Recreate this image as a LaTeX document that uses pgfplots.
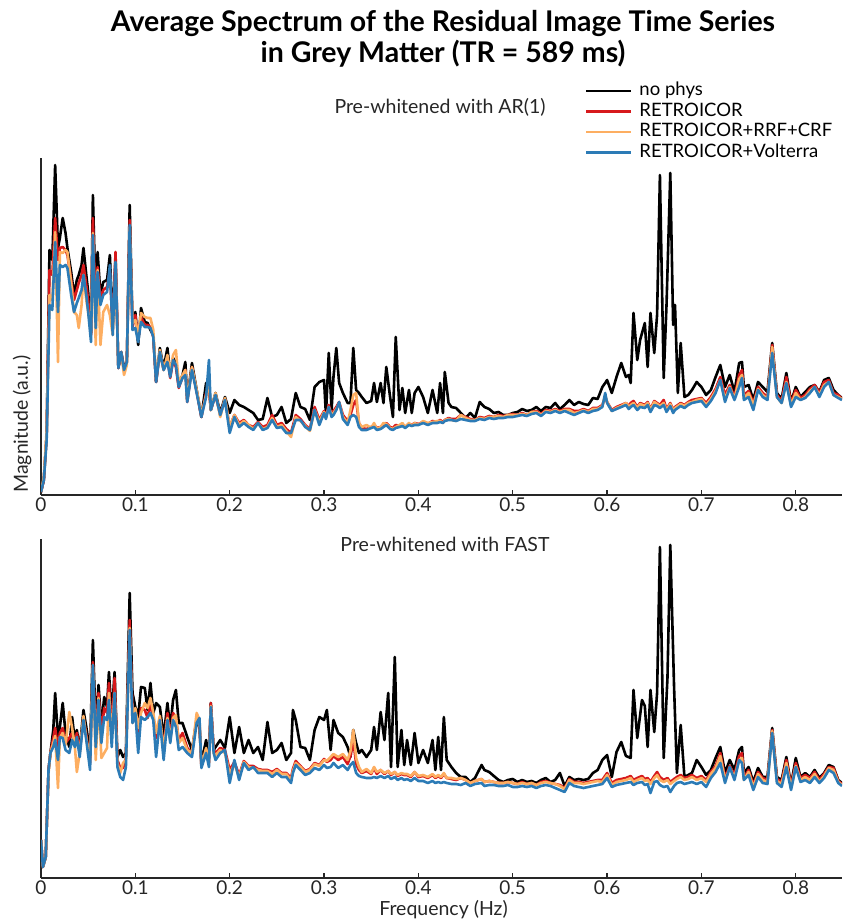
\documentclass[border=0pt]{standalone}
\usepackage{fontspec}
\setmainfont{Lato}
\usepackage{pgfplots}
\usepackage{pgfplotstable}
\pgfplotsset{compat=1.18}

\definecolor{cRed}{HTML}{D7191C}
\definecolor{cOrange}{HTML}{FDAE61}
\definecolor{cBlue}{HTML}{2C7BB6}
\definecolor{axgray}{HTML}{262626}

% f: frequency (Hz); k: no phys; r: RETROICOR; o: RETROICOR+RRF+CRF; b: RETROICOR+Volterra
\pgfplotstableread{
f k r o b
0.000 3 3 3 3
0.003 15 15 18 15
0.006 60 60 65 55
0.009 245 225 200 190
0.012 235 220 195 185
0.015 330 277 263 253
0.018 247 235 133 183
0.020 257 247 243 230
0.023 277 248 242 228
0.026 262 245 245 230
0.028 247 240 243 227
0.032 223 215 212 200
0.035 200 195 183 183
0.038 215 205 180 192
0.040 220 212 167 197
0.043 230 220 190 205
0.045 247 230 220 220
0.048 220 210 195 200
0.050 203 195 183 183
0.053 162 160 165 153
0.055 300 277 262 260
0.058 193 180 150 167
0.060 243 228 225 223
0.063 200 195 150 190
0.066 213 205 183 200
0.070 215 208 190 203
0.073 240 225 180 230
0.076 170 165 160 160
0.079 238 243 225 233
0.082 127 127 130 127
0.085 143 143 142 143
0.088 127 125 120 125
0.091 133 133 130 133
0.094 290 275 268 270
0.097 170 168 172 165
0.100 183 180 175 167
0.103 150 155 160 153
0.106 187 178 182 173
0.110 173 170 178 168
0.113 172 170 177 168
0.116 165 168 177 167
0.119 160 158 165 158
0.122 113 113 115 113
0.126 147 143 145 143
0.130 127 125 125 125
0.134 147 137 140 133
0.137 120 117 122 118
0.140 137 135 140 135
0.143 132 128 145 130
0.146 110 107 112 108
0.150 120 118 120 117
0.153 133 125 125 120
0.155 95 93 95 93
0.160 132 128 128 125
0.165 105 103 105 102
0.170 78 78 80 78
0.175 112 102 100 98
0.178 110 108 112 135
0.180 85 85 85 85
0.185 102 100 102 100
0.190 82 80 78 80
0.195 98 96 97 95
0.200 82 68 68 62
0.205 95 80 80 78
0.210 90 72 70 68
0.215 88 75 74 72
0.220 85 70 70 68
0.225 82 68 66 65
0.230 75 73 72 72
0.235 76 68 66 65
0.240 97 70 68 67
0.245 78 80 77 75
0.250 80 70 68 67
0.255 88 72 70 68
0.260 72 66 64 62
0.265 76 62 58 62
0.270 102 80 78 75
0.275 88 76 74 75
0.280 86 70 69 68
0.285 75 66 64 65
0.290 108 88 85 85
0.295 113 75 73 70
0.300 115 84 83 82
0.302 80 78 77 76
0.305 142 90 88 88
0.308 85 80 80 78
0.310 118 84 82 80
0.313 147 88 86 85
0.316 112 93 92 93
0.320 102 80 78 76
0.325 92 74 72 70
0.328 92 80 85 78
0.331 147 90 100 80
0.334 105 95 102 78
0.337 102 72 72 68
0.340 98 67 68 65
0.345 92 66 70 65
0.350 94 68 67 67
0.353 112 70 72 68
0.356 93 67 66 65
0.360 112 68 68 66
0.363 92 70 72 68
0.366 128 72 71 70
0.370 98 68 67 66
0.373 78 67 66 65
0.376 158 70 68 67
0.380 85 69 70 68
0.383 107 70 72 69
0.386 82 68 68 67
0.390 105 71 72 70
0.393 82 70 69 69
0.396 102 72 72 70
0.400 108 71 70 70
0.405 98 73 74 72
0.410 82 71 72 70
0.415 105 74 73 72
0.420 82 73 74 72
0.423 112 75 74 73
0.426 82 73 72 72
0.428 123 75 75 74
0.432 92 77 76 75
0.435 88 76 75 75
0.440 87 76 74 74
0.445 82 80 80 76
0.450 77 78 77 75
0.455 82 76 75 74
0.460 77 75 75 74
0.465 93 78 77 76
0.470 88 77 76 75
0.475 86 79 78 77
0.480 82 78 78 76
0.485 83 80 79 77
0.490 80 79 78 77
0.495 80 80 80 78
0.500 82 81 80 78
0.505 83 80 80 79
0.510 86 82 81 80
0.515 84 80 80 79
0.520 85 83 83 81
0.525 88 84 83 82
0.530 84 81 80 79
0.535 88 85 84 83
0.540 87 84 83 82
0.545 92 86 85 84
0.550 86 84 83 82
0.555 90 86 85 84
0.560 95 86 85 82
0.565 90 84 82 80
0.570 93 84 83 82
0.575 91 86 85 84
0.580 90 84 83 82
0.585 97 87 86 84
0.590 96 87 86 85
0.595 108 90 89 88
0.598 112 98 100 102
0.600 115 93 93 92
0.605 102 85 84 84
0.610 118 88 87 86
0.615 132 90 89 88
0.620 118 92 92 90
0.623 120 89 88 86
0.625 112 92 90 88
0.628 182 94 92 90
0.632 135 88 87 85
0.635 155 92 91 88
0.640 172 90 89 87
0.643 128 93 92 90
0.646 182 86 85 83
0.650 142 94 93 90
0.653 180 92 91 89
0.656 320 90 89 87
0.660 117 95 92 90
0.663 190 86 85 83
0.667 322 92 91 89
0.670 170 85 84 82
0.672 190 88 87 85
0.675 102 90 89 87
0.678 152 92 91 89
0.682 98 90 89 87
0.686 100 93 92 90
0.690 105 95 93 92
0.695 113 96 95 93
0.700 108 97 96 94
0.705 100 92 90 88
0.710 105 98 96 94
0.715 118 106 104 102
0.720 130 118 115 115
0.725 108 100 96 93
0.730 120 110 108 107
0.735 103 98 96 95
0.740 132 120 116 108
0.743 133 125 120 117
0.745 108 100 97 95
0.750 110 104 102 98
0.755 95 92 90 85
0.760 113 108 106 105
0.765 108 102 100 98
0.770 103 98 96 95
0.775 152 150 148 142
0.780 102 100 98 98
0.785 96 94 92 92
0.790 122 118 113 112
0.795 93 92 90 88
0.800 108 105 102 98
0.805 98 97 95 95
0.810 103 100 98 97
0.815 108 106 104 102
0.820 110 110 108 108
0.825 103 102 100 98
0.830 115 113 110 108
0.835 117 115 113 113
0.840 105 102 100 100
0.845 100 100 98 97
0.849 97 96 96 95
}\artab

\pgfplotstableread{
f k r o b
0.000 38 38 38 38
0.002 11 11 11 11
0.005 21 21 21 21
0.008 108 108 105 108
0.010 125 125 125 125
0.013 148 140 135 131
0.015 185 150 142 138
0.018 140 130 90 118
0.020 151 145 140 141
0.023 175 150 145 140
0.026 145 135 133 128
0.030 131 140 166 125
0.033 161 145 150 138
0.036 136 135 130 131
0.038 148 145 106 141
0.041 128 126 125 121
0.045 168 160 162 158
0.048 151 143 140 138
0.052 125 115 118 108
0.055 238 216 213 213
0.058 151 140 118 131
0.061 193 185 180 178
0.064 151 145 120 135
0.067 181 170 125 161
0.070 171 165 130 158
0.072 206 195 185 178
0.075 161 145 140 131
0.078 206 200 185 185
0.081 121 118 115 111
0.084 128 110 105 101
0.087 121 110 115 98
0.090 125 120 118 111
0.094 285 258 250 248
0.097 185 165 155 155
0.100 171 165 170 165
0.103 161 145 150 125
0.106 191 170 165 161
0.110 190 168 175 158
0.113 168 160 170 161
0.116 195 175 180 165
0.119 165 160 165 158
0.122 175 140 145 121
0.126 171 160 162 158
0.130 141 130 128 118
0.134 175 165 160 158
0.137 150 140 138 135
0.140 178 165 160 158
0.143 188 160 163 151
0.146 155 138 135 128
0.150 155 145 140 131
0.155 141 130 128 125
0.160 128 125 125 121
0.165 158 160 165 155
0.168 150 155 158 160
0.170 115 112 112 110
0.175 138 128 130 125
0.178 120 115 115 111
0.180 175 175 172 171
0.183 128 128 125 125
0.185 131 125 123 118
0.190 138 130 128 125
0.195 130 128 125 128
0.200 161 108 104 95
0.205 125 116 114 118
0.210 151 103 101 98
0.215 125 117 116 115
0.220 138 112 111 108
0.225 125 112 110 111
0.230 131 109 108 105
0.235 118 108 107 105
0.240 156 108 107 105
0.245 125 106 104 101
0.250 128 109 108 105
0.255 135 105 104 101
0.260 118 105 104 101
0.265 125 100 98 95
0.267 168 109 107 105
0.270 158 117 115 113
0.275 131 112 111 108
0.280 130 107 106 103
0.285 118 109 108 105
0.290 148 115 114 110
0.295 161 113 112 108
0.300 158 119 118 113
0.303 168 116 117 110
0.307 128 118 121 111
0.310 158 122 124 115
0.315 145 118 121 110
0.320 141 121 124 113
0.325 131 114 118 108
0.328 121 122 127 113
0.331 148 138 148 116
0.334 135 114 120 105
0.337 125 108 111 102
0.340 128 105 106 101
0.345 121 107 109 100
0.350 128 104 105 100
0.353 151 110 111 101
0.356 128 104 106 100
0.360 166 108 108 102
0.364 138 104 105 100
0.368 185 107 107 102
0.371 111 103 104 99
0.375 221 106 106 101
0.378 111 102 103 98
0.382 148 104 105 100
0.385 113 103 104 98
0.388 138 103 104 99
0.392 113 101 102 97
0.396 145 106 106 100
0.400 115 101 102 97
0.405 128 102 103 97
0.410 115 100 101 95
0.415 138 103 104 97
0.418 108 100 101 95
0.421 141 102 103 96
0.424 108 100 101 95
0.427 161 104 105 96
0.430 118 100 100 95
0.435 111 99 100 94
0.440 105 98 99 94
0.445 101 100 100 93
0.450 101 98 98 95
0.455 96 95 95 92
0.460 100 97 97 94
0.467 113 99 99 95
0.470 108 96 96 92
0.475 106 97 97 93
0.480 102 96 96 93
0.485 98 95 95 92
0.490 96 95 95 92
0.495 98 96 96 93
0.500 99 95 95 91
0.505 96 94 94 91
0.510 98 96 95 92
0.515 96 94 94 91
0.520 97 95 95 92
0.525 95 93 93 90
0.530 98 96 95 92
0.535 100 97 96 93
0.540 96 95 95 92
0.545 98 94 94 90
0.550 105 93 92 88
0.555 92 90 89 86
0.560 101 99 98 95
0.565 98 96 95 92
0.570 99 96 95 91
0.575 98 95 94 90
0.580 99 96 95 91
0.585 105 97 96 92
0.590 108 98 97 93
0.595 118 98 96 94
0.600 123 105 103 100
0.605 101 95 93 91
0.610 126 98 96 93
0.615 136 99 97 94
0.620 122 100 98 95
0.625 120 102 100 96
0.628 188 98 96 93
0.632 140 100 98 95
0.637 178 102 100 96
0.640 172 99 97 93
0.643 131 100 98 94
0.646 188 96 94 85
0.650 146 102 100 96
0.653 185 106 103 97
0.656 331 101 98 93
0.660 120 98 96 91
0.664 200 100 98 92
0.667 333 96 94 86
0.671 191 99 97 92
0.674 105 101 99 95
0.678 153 103 101 96
0.682 101 100 98 94
0.686 103 101 99 95
0.690 105 103 101 96
0.695 118 100 98 94
0.700 111 102 100 96
0.705 103 98 96 91
0.710 108 106 104 100
0.715 120 112 110 106
0.720 131 125 122 115
0.725 105 100 98 95
0.730 118 112 110 111
0.735 108 103 101 98
0.740 128 122 118 118
0.743 131 125 120 115
0.745 105 100 98 98
0.750 111 108 106 103
0.755 96 93 91 88
0.760 110 106 104 101
0.765 101 100 98 95
0.770 101 98 96 94
0.775 150 148 147 145
0.780 101 99 97 95
0.785 98 96 94 91
0.790 121 118 115 111
0.795 93 92 90 88
0.800 120 115 112 111
0.805 101 100 98 96
0.810 105 103 101 98
0.815 101 100 98 95
0.820 108 106 104 101
0.825 100 98 96 95
0.830 105 104 102 100
0.835 113 111 110 108
0.840 111 110 108 105
0.845 98 97 96 95
0.849 95 94 93 92
}\fasttab

\pgfplotsset{
  specaxis/.style={
    scale only axis, width=801pt,
    xmin=0, xmax=0.849, ymin=0,
    axis x line*=bottom, axis y line*=left,
    axis line style={draw=axgray, line width=1.3pt, -},
    xtick={0,0.1,0.2,0.3,0.4,0.5,0.6,0.7,0.8},
    xticklabels={0,0.1,0.2,0.3,0.4,0.5,0.6,0.7,0.8},
    ytick=\empty,
    tick align=inside, major tick length=5pt,
    tick style={draw=axgray, line width=1.3pt},
    xticklabel style={font=\fontsize{19}{22}\selectfont, text=axgray, inner sep=0pt, yshift=-3pt},
    every axis plot/.append style={line width=2.6pt, line join=round, no markers},
  },
  plk/.style={black},
  plr/.style={cRed},
  plo/.style={cOrange},
  plb/.style={cBlue},
}

\begin{document}
\begin{tikzpicture}[x=1pt,y=1pt]
\useasboundingbox (0,0) rectangle (844,919);

% upper panel: AR(1) pre-whitening
\begin{axis}[specaxis, at={(41pt,424pt)}, anchor=south west,
  height=337pt, ymax=337,
  legend style={draw=none, fill=none, at={(axis description cs:0.679,1.227)}, anchor=north west,
    inner sep=0pt, outer sep=0pt, row sep=1.6pt,
    font=\fontsize{18.5}{22}\selectfont,
    nodes={inner sep=0pt, text height=14pt, text depth=5pt},
    /tikz/every odd column/.append style={column sep=7pt}},
  legend cell align=left,
  legend image code/.code={\draw[#1, line width=2.6pt] (0pt,0pt) -- (45pt,0pt);},
]
\addplot[plk] table[x=f, y=k] {\artab};
\addplot[plr] table[x=f, y=r] {\artab};
\addplot[plo] table[x=f, y=o] {\artab};
\addplot[plb] table[x=f, y=b] {\artab};
\legend{no phys, RETROICOR, RETROICOR+RRF+CRF, RETROICOR+Volterra}
\end{axis}

% lower panel: FAST pre-whitening
\begin{axis}[specaxis, at={(41pt,41pt)}, anchor=south west,
  height=339pt, ymax=339]
\addplot[plk] table[x=f, y=k] {\fasttab};
\addplot[plr] table[x=f, y=r] {\fasttab};
\addplot[plo] table[x=f, y=o] {\fasttab};
\addplot[plb] table[x=f, y=b] {\fasttab};
\end{axis}

% titles and labels
\node[anchor=base, font=\bfseries\fontsize{28.5}{32}\selectfont] at (443,887) {Average Spectrum of the Residual Image Time Series};
\node[anchor=base, font=\bfseries\fontsize{28.5}{32}\selectfont] at (443,856) {in Grey Matter (TR = 589 ms)};
\node[anchor=base, font=\fontsize{19.5}{22}\selectfont, text=axgray] at (440,805) {Pre-whitened with AR(1)};
\node[anchor=base, font=\fontsize{19.5}{22}\selectfont, text=axgray] at (445,367) {Pre-whitened with FAST};
\node[rotate=90, font=\fontsize{19.5}{22}\selectfont, text=axgray] at (22,495) {Magnitude (a.u.)};
\node[anchor=base, font=\fontsize{19.5}{22}\selectfont, text=axgray] at (443.5,3) {Frequency (Hz)};
\end{tikzpicture}
\end{document}
